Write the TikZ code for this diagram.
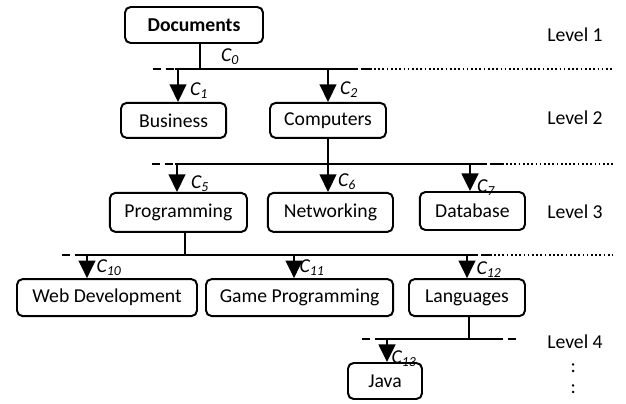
\documentclass[tikz,border=0pt]{standalone}
\usepackage{fontspec}
\setmainfont{Carlito}
\usetikzlibrary{arrows.meta}

\begin{document}
\begin{tikzpicture}[
  box/.style={draw,line width=1.4pt,rounded corners=4pt,inner sep=0pt,
              font=\fontsize{14}{16}\selectfont,minimum height=9mm},
  lvl/.style={font=\fontsize{14}{16}\selectfont},
  cl/.style={font=\fontsize{14}{16}\selectfont\itshape,inner sep=0pt},
  bus/.style={line width=1.4pt},
  lead/.style={line width=1.4pt,dash pattern=on 6pt off 3pt},
  tail/.style={line width=1.2pt,dash pattern=on 1.2pt off 1.8pt},
  arr/.style={-{Triangle[length=4.4mm,width=4.2mm]},line width=1.4pt}]
\useasboundingbox (0,0) rectangle (15.65,-10.075);

% boxes
\node[box,minimum width=3.45cm,font=\fontsize{14}{16}\selectfont\bfseries] (docs) at (4.85,-0.625) {Documents};
\node[box,minimum width=2.63cm,minimum height=8.75mm] (business) at (4.34,-3.01) {Business};
\node[box,minimum width=2.9cm,minimum height=8.75mm] (computers) at (8.2,-3.01) {Computers};
\node[box,minimum width=3.43cm,minimum height=9.75mm] (prog) at (4.46,-5.31) {Programming};
\node[box,minimum width=3.13cm,minimum height=9.75mm] (network) at (8.26,-5.31) {Networking};
\node[box,minimum width=2.63cm,minimum height=9.5mm] (database) at (11.81,-5.275) {Database};
\node[box,minimum width=4.5cm,minimum height=9.25mm] (webdev) at (2.675,-7.44) {Web Development};
\node[box,minimum width=4.68cm,minimum height=9.25mm] (gameprog) at (7.49,-7.44) {Game Programming};
\node[box,minimum width=2.9cm,minimum height=9.25mm] (lang) at (11.675,-7.44) {Languages};
\node[box,minimum width=1.85cm] (java) at (9.625,-9.525) {Java};

% levels
\node[lvl] (lev1) at (14.375,-0.875) {Level 1};
\node[lvl] (lev2) at (14.375,-2.95) {Level 2};
\node[lvl] (lev3) at (14.375,-5.3) {Level 3};
\node[lvl] (lev4) at (14.375,-8.55) {Level 4};
\node[lvl,inner sep=0pt] (more1) at (14.33,-9.2) {:};
\node[lvl,inner sep=0pt] (more2) at (14.33,-9.72) {:};

% level 1 split
\coordinate (d0) at (5.0,-1.725);
\coordinate (c1) at (4.45,-1.725);
\coordinate (c2) at (8.2,-1.725);
\draw[lead] (3.825,-1.725) -- (4.4,-1.725);
\draw[bus] (4.375,-1.725) -- (8.95,-1.725);
\draw[bus] (9.03,-1.725) -- (9.3,-1.725);
\draw[tail] (9.35,-1.725) -- (15.3,-1.725);
\draw[bus] (docs.south -| d0) -- (d0);
\draw[arr] (c1) -- (business.north -| c1);
\draw[arr] (c2) -- (computers.north -| c2);
\node[cl] (lc0) at (5.75,-1.425) {C\textsubscript{0}};
\node[cl] (lc1) at (4.975,-2.275) {C\textsubscript{1}};
\node[cl] (lc2) at (8.725,-2.25) {C\textsubscript{2}};

% level 2 split
\coordinate (c5) at (4.425,-4.1);
\coordinate (c7) at (11.75,-4.1);
\draw[lead] (3.8,-4.1) -- (4.4,-4.1);
\draw[bus] (4.375,-4.1) -- (12.175,-4.1);
\draw[bus] (12.25,-4.1) -- (12.6,-4.1);
\draw[tail] (12.65,-4.1) -- (15.325,-4.1);
\draw[arr] (computers.south) -- (computers.south |- network.north);
\draw[arr] (c5) -- (prog.north -| c5);
\draw[arr] (c7) -- (database.north -| c7);
\node[cl] (lc5) at (5.0,-4.6) {C\textsubscript{5}};
\node[cl] (lc6) at (8.675,-4.55) {C\textsubscript{6}};
\node[cl] (lc7) at (12.15,-4.7) {C\textsubscript{7}};

% level 3 split
\coordinate (p0) at (4.625,-6.375);
\coordinate (c10) at (2.175,-6.375);
\coordinate (c11) at (7.35,-6.375);
\coordinate (c12) at (11.675,-6.375);
\draw[lead] (1.55,-6.375) -- (2.1,-6.375);
\draw[bus] (2.075,-6.375) -- (11.95,-6.375);
\draw[bus] (12.03,-6.375) -- (12.3,-6.375);
\draw[tail] (12.35,-6.375) -- (15.325,-6.375);
\draw[bus] (prog.south -| p0) -- (p0);
\draw[arr] (c10) -- (webdev.north -| c10);
\draw[arr] (c11) -- (gameprog.north -| c11);
\draw[arr] (c12) -- (lang.north -| c12);
\node[cl] (lc10) at (2.725,-6.7) {C\textsubscript{10}};
\node[cl] (lc11) at (7.8,-6.7) {C\textsubscript{11}};
\node[cl] (lc12) at (12.225,-6.75) {C\textsubscript{12}};

% level 4 split
\coordinate (g0) at (11.725,-8.475);
\coordinate (c13) at (9.675,-8.475);
\draw[lead] (9.05,-8.475) -- (9.6,-8.475);
\draw[bus] (9.55,-8.475) -- (12.575,-8.475);
\draw[lead] (12.7,-8.475) -- (12.9,-8.475);
\draw[bus] (lang.south -| g0) -- (g0);
\draw[arr] (c13) -- (java.north -| c13);
\node[cl] (lc13) at (10.1,-8.975) {C\textsubscript{13}};
\end{tikzpicture}
\end{document}
